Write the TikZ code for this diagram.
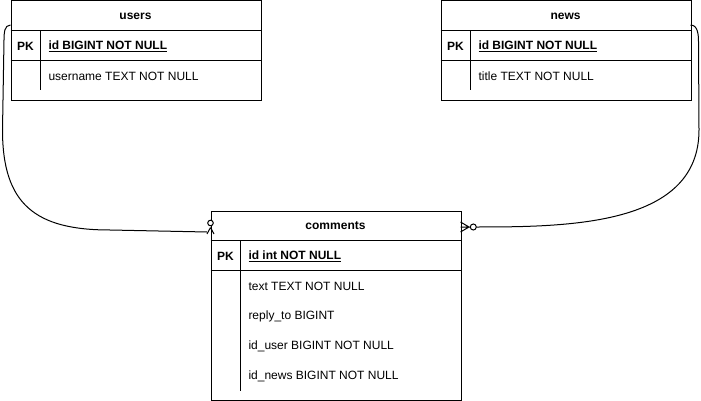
\documentclass[tikz,border=0pt]{standalone}
\usepackage{fontspec}
\setmainfont{Liberation Sans}
\begin{document}
\begin{tikzpicture}[x=1pt,y=-1pt,line width=1pt,
  tbl/.style={draw,rectangle,anchor=north west,minimum width=250pt,inner sep=0pt},
  hdr/.style={font=\fontsize{12}{14}\selectfont\bfseries,inner sep=0pt},
  fld/.style={font=\fontsize{12}{14}\selectfont,anchor=west,inner sep=0pt},
  pkf/.style={font=\fontsize{12}{14}\selectfont\bfseries,anchor=west,inner sep=0pt},
  rel/.style={draw,line width=1pt}]
\useasboundingbox (0,0) rectangle (701,401);

% users
\node[tbl,minimum height=100pt] (users) at (10.5,0.5) {};
\draw (10.5,30.5) -- (260.5,30.5) (10.5,60.5) -- (260.5,60.5) (40.5,30.5) -- (40.5,90.5);
\node[hdr] (usersT) at (135.5,16) {users};
\node[hdr] (usersPK) at (25.5,46) {PK};
\node[pkf] (usersId) at (48,46) {\underline{id BIGINT NOT NULL}};
\node[fld] (usersName) at (48,76) {username TEXT NOT NULL};

% news
\node[tbl,minimum height=100pt] (news) at (440.5,0.5) {};
\draw (440.5,30.5) -- (690.5,30.5) (440.5,60.5) -- (690.5,60.5) (470.5,30.5) -- (470.5,90.5);
\node[hdr] (newsT) at (565.5,16) {news};
\node[hdr] (newsPK) at (455.5,46) {PK};
\node[pkf] (newsId) at (478,46) {\underline{id BIGINT NOT NULL}};
\node[fld] (newsTitle) at (478,76) {title TEXT NOT NULL};

% comments
\node[tbl,minimum height=189pt] (comments) at (210.5,210.5) {};
\draw (210.5,240.5) -- (460.5,240.5) (210.5,270.5) -- (460.5,270.5) (240.5,240.5) -- (240.5,390.5);
\node[hdr] (commentsT) at (335.5,226) {comments};
\node[hdr] (commentsPK) at (225.5,256) {PK};
\node[pkf] (commentsId) at (248,256) {\underline{id int NOT NULL}};
\node[fld] (cText) at (248,286) {text TEXT NOT NULL};
\node[fld] (cReply) at (248,316) {reply\_to BIGINT};
\node[fld] (cUser) at (248,346) {id\_user BIGINT NOT NULL};
\node[fld] (cNews) at (248,376) {id\_news BIGINT NOT NULL};

% connectors
\coordinate (uS) at (10.5,25);
\coordinate (uE) at (207,232);
\coordinate (nS) at (690.5,25);
\coordinate (nE) at (476.3,227);

\draw[rel] (uS) to[out=180,in=90] (4,40) -- (2.5,130) to[out=-90,in=180,looseness=1.3] (110,230) -- (uE);
\draw[rel] (nS) to[out=0,in=90] (698.5,42) -- (699,130) to[out=-90,in=0] (nE);

% markers
\draw (210.5,227.5) -- (207,234) (210.5,227.5) -- (214,234);
\draw[fill=white] (210.5,223) circle (2.8pt);
\draw (460.5,222) -- (469,227) -- (460.5,232) (460.5,227) -- (470.5,227);
\draw[fill=white] (473.3,227) circle (3pt);
\end{tikzpicture}
\end{document}
